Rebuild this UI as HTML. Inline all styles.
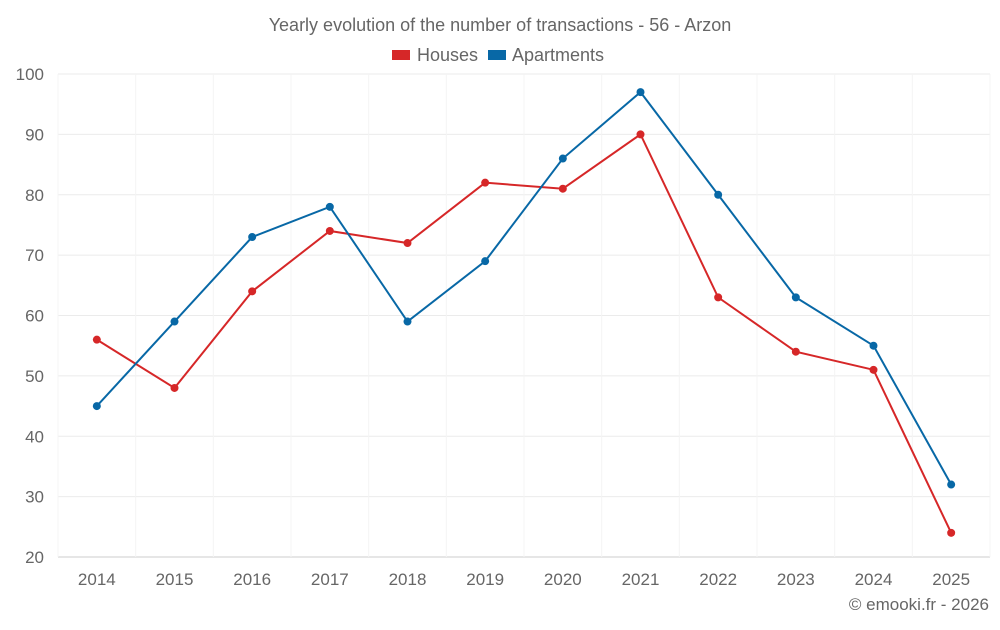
<!DOCTYPE html>
<html><head><meta charset="utf-8"><style>
body{margin:0;background:#fff;}
svg text{font-family:"Liberation Sans",sans-serif;fill:#666;}
</style></head><body>
<svg id="chart" width="1000" height="625">
<text x="500" y="31" text-anchor="middle" font-size="18">Yearly evolution of the number of transactions - 56 - Arzon</text>
<g>
<g><rect x="392" y="50" width="18" height="10" fill="#d62728"></rect><text x="417" y="61" font-size="18">Houses</text></g>
<g><rect x="488" y="50" width="18" height="10" fill="#0868a6"></rect><text x="512" y="61" font-size="18">Apartments</text></g>
</g>
<g id="grid"></g>
<g id="axes"></g>
<g id="series"></g>
<text x="989" y="610" text-anchor="end" font-size="17">© emooki.fr - 2026</text>
</svg>
<script>
const years=["2014","2015","2016","2017","2018","2019","2020","2021","2022","2023","2024","2025"];
const houses=[56,48,64,74,72,82,81,90,63,54,51,24];
const apartments=[45,59,73,78,59,69,86,97,80,63,55,32];
const yTicks=[20,30,40,50,60,70,80,90,100];
const NS="http://www.w3.org/2000/svg";
const L=58,R=990,T=74,B=557,yMin=20,yMax=100;
const bw=(R-L)/years.length;
const xs=i=>L+bw*(i+0.5);
const ys=v=>B-(v-yMin)/(yMax-yMin)*(B-T);
function mk(tag,attrs,parent){const e=document.createElementNS(NS,tag);for(const k in attrs)e.setAttribute(k,attrs[k]);parent.appendChild(e);return e;}
const grid=document.getElementById('grid'),axes=document.getElementById('axes'),ser=document.getElementById('series');
yTicks.forEach(t=>{
 const l=mk('line',{x1:L,x2:R,y1:ys(t),y2:ys(t),stroke:t===yMin?'#ccc':'#ebebeb','stroke-width':1},grid);
 
 
 const tx=mk('text',{x:44,y:ys(t)+6,'text-anchor':'end','font-size':17},axes);
 tx.textContent=t;
 
 
});
for(let i=0;i<=years.length;i++){
 const l=mk('line',{x1:L+bw*i,x2:L+bw*i,y1:T,y2:B,stroke:'#f4f4f4','stroke-width':1},grid);
 
 
}
years.forEach((y,i)=>{
 const tx=mk('text',{x:xs(i),y:585,'text-anchor':'middle','font-size':17},axes);
 tx.textContent=y;
 
 
});
function draw(vals,color,name){
 const p=mk('polyline',{points:vals.map((v,i)=>xs(i)+','+ys(v)).join(' '),fill:'none',stroke:color,'stroke-width':2},ser);
 
 
 vals.forEach((v,i)=>{
  const c=mk('circle',{cx:xs(i),cy:ys(v),r:4,fill:color},ser);
  
  
 });
}
draw(houses,'#d62728','houses');
draw(apartments,'#0868a6','apartments');
</script>
</body></html>
